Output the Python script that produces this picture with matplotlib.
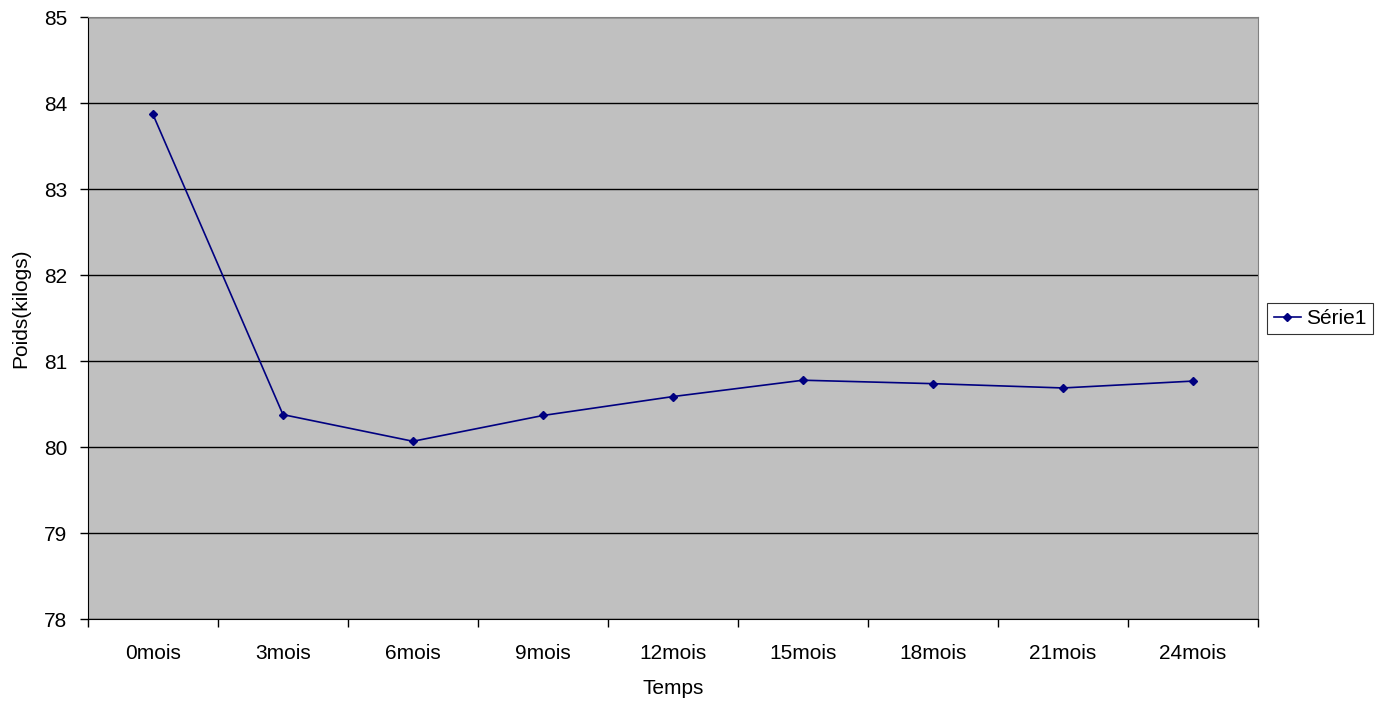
import matplotlib.pyplot as plt
import numpy as np

plt.rcParams['font.family'] = ['Liberation Sans', 'DejaVu Sans']

months = ["0mois", "3mois", "6mois", "9mois", "12mois", "15mois", "18mois", "21mois", "24mois"]
weights = [83.87, 80.38, 80.07, 80.37, 80.59, 80.78, 80.74, 80.69, 80.77]
y_ticks = [78, 79, 80, 81, 82, 83, 84, 85]

fig = plt.figure(figsize=(13.81, 7.06), dpi=100)
ax = fig.add_axes([0.0637, 0.1228, 0.8473, 0.8527])
ax.set_facecolor("#c0c0c0")

x = np.arange(len(months))
ax.plot(x, weights, color="#000080", linewidth=1.2, marker="D", markersize=4.5,
        markerfacecolor="#000080", markeredgecolor="#000080", label="Série1", zorder=3)

ax.set_xlim(-0.5, len(months) - 0.5)
ax.set_ylim(78, 85)
ax.set_yticks(y_ticks)
ax.yaxis.grid(True, color="black", linewidth=1)
ax.set_axisbelow(True)

# category labels centred, tick marks on the boundaries
ax.set_xticks(x)
ax.set_xticklabels(months)
ax.set_xticks(np.arange(-0.5, len(months)), minor=True)
ax.tick_params(axis="x", which="major", length=0, pad=18, labelsize=15)
ax.tick_params(axis="x", which="minor", length=6, width=1, direction="out")
ax.tick_params(axis="y", length=6, width=1, direction="out", labelsize=15, pad=9)

for side in ["top", "right"]:
    ax.spines[side].set_color("#808080")
for side in ["left", "bottom"]:
    ax.spines[side].set_color("black")

ax.set_xlabel("Temps", fontsize=15, labelpad=11)
ax.set_ylabel("Poids(kilogs)", fontsize=15, va="center")
ax.yaxis.set_label_coords(-0.0573, 0.5166)

leg = ax.legend(loc="center left", bbox_to_anchor=(1.008, 0.5), frameon=True, fancybox=False,
                edgecolor="black", fontsize=15, handlelength=1.3, handletextpad=0.25,
                borderpad=0.3, borderaxespad=0)
leg.get_frame().set_linewidth(0.8)

fig.savefig("out.png", dpi=100)
